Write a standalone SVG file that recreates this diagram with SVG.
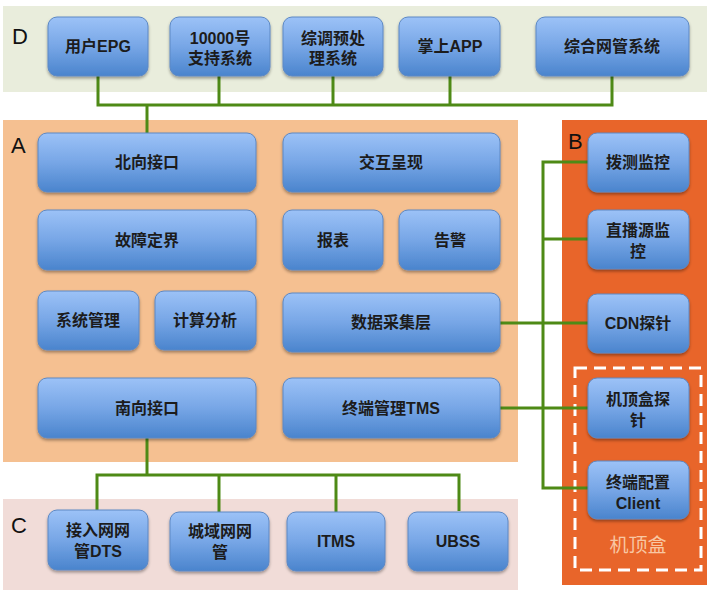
<svg xmlns="http://www.w3.org/2000/svg" width="713" height="590" viewBox="0 0 713 590">
<defs>
<linearGradient id="g" x1="0" y1="0" x2="0" y2="1">
<stop offset="0" stop-color="#9CC2F7"/>
<stop offset="0.5" stop-color="#77A6E6"/>
<stop offset="1" stop-color="#4A84CD"/>
</linearGradient>
<filter id="sh" x="-10%" y="-10%" width="120%" height="130%">
<feDropShadow dx="0" dy="2" stdDeviation="1.5" flood-color="#000" flood-opacity="0.35"/>
</filter>
</defs>
<style>
.n{fill:url(#g);stroke:#5C88C4;stroke-width:1;filter:url(#sh)}
.t{font-family:"Liberation Sans","Noto Sans CJK SC",sans-serif;font-size:16px;font-weight:bold;fill:#1C1C1C;text-anchor:middle}
.lb{font-family:"Liberation Sans",sans-serif;font-size:22px;fill:#111}
.c{fill:none;stroke:#4E8A16;stroke-width:3}
</style>
<rect x="3" y="6" width="704" height="86" fill="#E9EDDC"/>
<rect x="3" y="120" width="515" height="342" fill="#F5C091"/>
<rect x="562" y="120" width="145" height="465" fill="#E8652A"/>
<rect x="3" y="499" width="515" height="91" fill="#F1DCD8"/>
<rect x="575" y="368" width="126" height="202" fill="none" stroke="#fff" stroke-width="3" stroke-dasharray="12 7"/>
<text x="638" y="552" font-family="'Noto Sans CJK SC',sans-serif" font-size="19" fill="#F8C7A3" text-anchor="middle">机顶盒</text>
<text class="lb" x="12" y="44">D</text>
<text class="lb" x="11" y="153">A</text>
<text class="lb" x="568" y="149">B</text>
<text class="lb" x="11" y="533">C</text>
<g id="connectors">
<polyline class="c" points="98,76 98,105 612,105 612,76"/>
<line class="c" x1="219" y1="76" x2="219" y2="105"/>
<line class="c" x1="333" y1="76" x2="333" y2="105"/>
<line class="c" x1="450" y1="76" x2="450" y2="105"/>
<line class="c" x1="147" y1="104" x2="147" y2="133"/>
<polyline class="c" points="588,162 543,162 543,488 588,488"/>
<line class="c" x1="543" y1="239" x2="588" y2="239"/>
<line class="c" x1="500" y1="323" x2="588" y2="323"/>
<line class="c" x1="500" y1="408" x2="588" y2="408"/>
<line class="c" x1="147" y1="438" x2="147" y2="475"/>
<polyline class="c" points="97,510 97,475 459,475 459,511"/>
<line class="c" x1="219" y1="475" x2="219" y2="512"/>
<line class="c" x1="336" y1="475" x2="336" y2="512"/>
</g>
<g id="n-epg"><rect class="n" x="48" y="17" width="100" height="59" rx="9"/><text class="t" x="98" y="52">用户EPG</text></g>
<g id="n-10000"><rect class="n" x="170" y="17" width="100" height="59" rx="9"/><text class="t" x="220" y="44">10000号</text><text class="t" x="220" y="64">支持系统</text></g>
<g id="n-zt"><rect class="n" x="283" y="17" width="100" height="59" rx="9"/><text class="t" x="333" y="44">综调预处</text><text class="t" x="333" y="64">理系统</text></g>
<g id="n-app"><rect class="n" x="399" y="17" width="101" height="59" rx="9"/><text class="t" x="450" y="52">掌上APP</text></g>
<g id="n-zh"><rect class="n" x="536" y="17" width="153" height="59" rx="9"/><text class="t" x="612" y="52">综合网管系统</text></g>
<g id="n-bx"><rect class="n" x="38" y="133" width="218" height="59" rx="9"/><text class="t" x="147" y="168">北向接口</text></g>
<g id="n-jh"><rect class="n" x="283" y="133" width="217" height="59" rx="9"/><text class="t" x="391" y="168">交互呈现</text></g>
<g id="n-gz"><rect class="n" x="38" y="210" width="218" height="60" rx="9"/><text class="t" x="147" y="246">故障定界</text></g>
<g id="n-bb"><rect class="n" x="283" y="210" width="100" height="60" rx="9"/><text class="t" x="333" y="246">报表</text></g>
<g id="n-gj"><rect class="n" x="399" y="210" width="101" height="60" rx="9"/><text class="t" x="450" y="246">告警</text></g>
<g id="n-xt"><rect class="n" x="38" y="291" width="101" height="59" rx="9"/><text class="t" x="88" y="326">系统管理</text></g>
<g id="n-js"><rect class="n" x="155" y="291" width="101" height="59" rx="9"/><text class="t" x="205" y="326">计算分析</text></g>
<g id="n-sj"><rect class="n" x="283" y="293" width="217" height="59" rx="9"/><text class="t" x="391" y="328">数据采集层</text></g>
<g id="n-nx"><rect class="n" x="38" y="378" width="218" height="60" rx="9"/><text class="t" x="147" y="414">南向接口</text></g>
<g id="n-tms"><rect class="n" x="283" y="378" width="217" height="60" rx="9"/><text class="t" x="391" y="414">终端管理TMS</text></g>
<g id="n-bc"><rect class="n" x="588" y="133" width="101" height="59" rx="9"/><text class="t" x="638" y="168">拨测监控</text></g>
<g id="n-zb"><rect class="n" x="588" y="210" width="101" height="59" rx="9"/><text class="t" x="638" y="236">直播源监</text><text class="t" x="638" y="257">控</text></g>
<g id="n-cdn"><rect class="n" x="588" y="294" width="101" height="59" rx="9"/><text class="t" x="638" y="329">CDN探针</text></g>
<g id="n-jdh"><rect class="n" x="588" y="378" width="101" height="60" rx="9"/><text class="t" x="638" y="405">机顶盒探</text><text class="t" x="638" y="426">针</text></g>
<g id="n-client"><rect class="n" x="588" y="461" width="101" height="58" rx="9"/><text class="t" x="638" y="488">终端配置</text><text class="t" x="638" y="509">Client</text></g>
<g id="n-dts"><rect class="n" x="48" y="510" width="100" height="60" rx="9"/><text class="t" x="98" y="536">接入网网</text><text class="t" x="98" y="557">管DTS</text></g>
<g id="n-cy"><rect class="n" x="170" y="512" width="99" height="59" rx="9"/><text class="t" x="220" y="537">城域网网</text><text class="t" x="220" y="558">管</text></g>
<g id="n-itms"><rect class="n" x="287" y="512" width="98" height="59" rx="9"/><text class="t" x="336" y="547">ITMS</text></g>
<g id="n-ubss"><rect class="n" x="408" y="512" width="100" height="59" rx="9"/><text class="t" x="458" y="547">UBSS</text></g>
</svg>
